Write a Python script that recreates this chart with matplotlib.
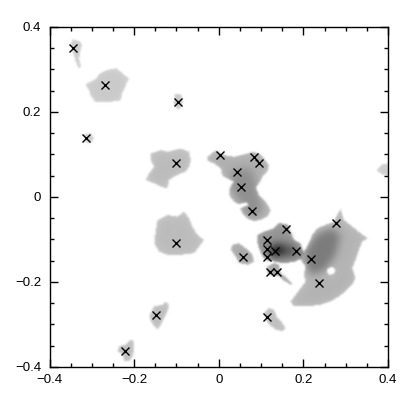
import numpy as np
import matplotlib
matplotlib.use("Agg")
import matplotlib.pyplot as plt
from matplotlib.path import Path
from matplotlib.ticker import MultipleLocator

# positions of the sources (x marks)
marker_x = [-0.345, -0.269, -0.097, -0.313, -0.102,
            0.003, 0.083, 0.094, 0.043, 0.053, 0.078,
            0.159, 0.113, 0.113, 0.133, 0.183, 0.058, 0.113, 0.218, 0.278,
            0.122, 0.138, 0.238, 0.113,
            -0.102, -0.148, -0.222]
marker_y = [0.351, 0.264, 0.224, 0.139, 0.079,
            0.099, 0.095, 0.079, 0.058, 0.023, -0.032,
            -0.076, -0.102, -0.123, -0.128, -0.127, -0.141, -0.142, -0.147, -0.062,
            -0.177, -0.177, -0.202, -0.282,
            -0.108, -0.278, -0.362]

# outlines of the grey regions (data coords)
blob_tl_narrow = [(-0.3475, 0.373), (-0.330, 0.367), (-0.3255, 0.358), (-0.330, 0.342),
                  (-0.332, 0.326), (-0.328, 0.307), (-0.333, 0.303), (-0.340, 0.318),
                  (-0.344, 0.334), (-0.349, 0.346), (-0.3515, 0.362)]
blob_tl_big = [(-0.318, 0.265), (-0.2925, 0.279), (-0.2847, 0.291), (-0.2688, 0.299),
               (-0.2452, 0.304), (-0.2294, 0.293), (-0.2152, 0.279), (-0.2216, 0.2635),
               (-0.2294, 0.248), (-0.2334, 0.228), (-0.261, 0.224), (-0.2925, 0.224),
               (-0.3043, 0.236), (-0.3083, 0.252)]
blob_small_a = [(-0.1057, 0.2424), (-0.0915, 0.2424), (-0.0868, 0.2282), (-0.0915, 0.2094),
                (-0.101, 0.207), (-0.108, 0.2212)]
blob_small_b = [(-0.3208, 0.1482), (-0.3043, 0.1506), (-0.2972, 0.1388), (-0.3043, 0.127),
                (-0.3185, 0.1294)]
blob_mid_upper = [(-0.1625, 0.1028), (-0.1388, 0.1106), (-0.123, 0.1066), (-0.0916, 0.1146),
                  (-0.072, 0.1066), (-0.068, 0.0871), (-0.072, 0.0713), (-0.0797, 0.0595),
                  (-0.0916, 0.0558), (-0.1074, 0.0478), (-0.1192, 0.040), (-0.123, 0.0205),
                  (-0.1388, 0.0242), (-0.1547, 0.0322), (-0.1743, 0.040), (-0.1665, 0.0558),
                  (-0.1547, 0.0713), (-0.1625, 0.0871)]
blob_mid_lower = [(-0.1466, -0.0541), (-0.123, -0.0424), (-0.0994, -0.0464), (-0.0838, -0.0346),
                  (-0.072, -0.0501), (-0.0639, -0.0699), (-0.0521, -0.0894), (-0.0365, -0.1012),
                  (-0.0483, -0.1169), (-0.0601, -0.1325), (-0.0916, -0.1365), (-0.123, -0.1365),
                  (-0.1428, -0.1287), (-0.1547, -0.1089), (-0.1507, -0.0776)]
blob_center_top = [(-0.0285, 0.0948), (-0.0088, 0.1106), (0.0108, 0.0988), (0.0344, 0.0948),
                   (0.0661, 0.1028), (0.0779, 0.1066), (0.0935, 0.1028), (0.1053, 0.0911),
                   (0.1171, 0.0753), (0.1134, 0.0595), (0.1015, 0.0478), (0.0935, 0.0322),
                   (0.0857, 0.0242), (0.0935, 0.0047), (0.1093, -0.0111), (0.1212, -0.0306),
                   (0.1134, -0.0464), (0.0975, -0.0541), (0.0817, -0.0565), (0.0661, -0.0518),
                   (0.0543, -0.0384), (0.0486, -0.0266), (0.058, -0.0228), (0.0699, -0.0188),
                   (0.0621, -0.0125), (0.0462, -0.0172), (0.0344, -0.0111), (0.0226, 0.0047),
                   (0.025, 0.0242), (0.0344, 0.036), (0.0188, 0.044), (0.007, 0.0501),
                   (0.003, 0.0675), (-0.0129, 0.0793), (-0.027, 0.0847)]
blob_cluster = [(0.0897, -0.0894), (0.1053, -0.0816), (0.129, -0.0736), (0.1408, -0.0619),
                (0.1606, -0.0635), (0.1684, -0.0816), (0.1762, -0.1012), (0.192, -0.1089),
                (0.1984, -0.1287), (0.1961, -0.1442), (0.1802, -0.1522), (0.1566, -0.156),
                (0.1408, -0.1546), (0.129, -0.1522), (0.1134, -0.1499), (0.1015, -0.1405),
                (0.0935, -0.1207), (0.0897, -0.1052)]
blob_cluster_tail = [(0.1134, -0.164), (0.129, -0.156), (0.1408, -0.16), (0.1448, -0.1795),
                     (0.1606, -0.1913), (0.1724, -0.2031), (0.1684, -0.207), (0.1488, -0.1953),
                     (0.1408, -0.1875), (0.1252, -0.1875), (0.1134, -0.1795)]
blob_small_c = [(0.0306, -0.1129), (0.0462, -0.1089), (0.0621, -0.1207), (0.0779, -0.1365),
                (0.0817, -0.1522), (0.0661, -0.160), (0.0462, -0.156), (0.0384, -0.1405),
                (0.0266, -0.1247)]
blob_right = [(0.2866, -0.0282), (0.2944, -0.0541), (0.3143, -0.0699), (0.3339, -0.0854),
              (0.3511, -0.0972), (0.3379, -0.1052), (0.3298, -0.1247), (0.322, -0.1482),
              (0.3143, -0.1678), (0.322, -0.1913), (0.3143, -0.207), (0.2984, -0.2228),
              (0.2826, -0.2346), (0.263, -0.2464), (0.2393, -0.2541), (0.2079, -0.2581),
              (0.1762, -0.2581), (0.1684, -0.2464), (0.1802, -0.2306), (0.192, -0.2148),
              (0.2039, -0.1993), (0.1999, -0.1835), (0.2039, -0.164), (0.192, -0.1482),
              (0.1999, -0.1287), (0.2117, -0.1089), (0.2197, -0.0894), (0.2315, -0.0736),
              (0.2511, -0.0659), (0.2708, -0.0581), (0.2788, -0.0424)]
hole_right = [(0.256, -0.170), (0.266, -0.164), (0.274, -0.170), (0.272, -0.180),
              (0.262, -0.184), (0.255, -0.178)]
blob_low_a = [(0.1053, -0.2736), (0.1171, -0.2619), (0.129, -0.2659), (0.137, -0.2854),
              (0.1488, -0.2972), (0.1566, -0.3089), (0.1488, -0.3169), (0.133, -0.3129),
              (0.1171, -0.3012), (0.1093, -0.2894)]
blob_low_b = [(-0.1547, -0.2581), (-0.1348, -0.2541), (-0.127, -0.2464), (-0.1192, -0.2541),
              (-0.123, -0.2699), (-0.131, -0.2854), (-0.1388, -0.3012), (-0.1466, -0.3129),
              (-0.1547, -0.3052), (-0.1625, -0.2934), (-0.1665, -0.2816)]
blob_low_c = [(-0.2374, -0.3522), (-0.2216, -0.3482), (-0.2097, -0.3365), (-0.2019, -0.3404),
              (-0.2019, -0.356), (-0.2057, -0.3758), (-0.2138, -0.3875), (-0.2256, -0.3875),
              (-0.2294, -0.3718), (-0.2412, -0.364)]
blob_edge = [(0.3717, 0.0635), (0.3858, 0.0776), (0.405, 0.080), (0.405, 0.0494), (0.3858, 0.0518)]

blobs = [blob_tl_narrow, blob_tl_big, blob_small_a, blob_small_b, blob_mid_upper,
         blob_mid_lower, blob_center_top, blob_cluster, blob_cluster_tail, blob_small_c,
         blob_right, blob_low_a, blob_low_b, blob_low_c, blob_edge]
blob_level = [0.20, 0.20, 0.22, 0.20, 0.25, 0.25, 0.30, 0.40, 0.34, 0.33,
              0.28, 0.25, 0.25, 0.25, 0.20]

# darker cores inside the regions
core_cluster = [(0.117, -0.112), (0.150, -0.108), (0.181, -0.118), (0.181, -0.138),
                (0.150, -0.142), (0.117, -0.140)]
core_spot = [(0.124, -0.120), (0.145, -0.118), (0.150, -0.132), (0.128, -0.136)]
core_right = [(0.2039, -0.1247), (0.2275, -0.0894), (0.263, -0.0729), (0.2866, -0.0894),
              (0.2748, -0.1365), (0.2511, -0.1718), (0.2157, -0.1835), (0.2039, -0.160)]
core_center = [(0.03, 0.06), (0.07, 0.07), (0.09, 0.03), (0.10, -0.03), (0.09, -0.05),
               (0.06, -0.04), (0.04, 0.0), (0.02, 0.03)]
cores = [core_cluster, core_spot, core_right, core_center]
core_level = [0.25, 0.35, 0.22, 0.12]

tick_vals = [-0.4, -0.2, 0, 0.2, 0.4]
tick_labels = ["\u22120.4", "\u22120.2", "0", "0.2", "0.4"]


def blur(img, sigma):
    r = int(3 * sigma) + 1
    k = np.exp(-0.5 * (np.arange(-r, r + 1) / sigma) ** 2)
    k /= k.sum()
    img = np.apply_along_axis(lambda m: np.convolve(m, k, mode="same"), 0, img)
    img = np.apply_along_axis(lambda m: np.convolve(m, k, mode="same"), 1, img)
    return img


def poly_mask(poly, pts, shape):
    return Path(poly).contains_points(pts).reshape(shape).astype(float)


n = 340
g = np.linspace(-0.4, 0.4, n)
gx, gy = np.meshgrid(g, g)
pts = np.column_stack([gx.ravel(), gy.ravel()])

base = np.zeros((n, n))
for poly, lev in zip(blobs, blob_level):
    base = np.maximum(base, poly_mask(poly, pts, base.shape) * lev)
base *= 1 - poly_mask(hole_right, pts, base.shape)
union = (base > 0).astype(float)

core = np.zeros((n, n))
for poly, lev in zip(cores, core_level):
    core += poly_mask(poly, pts, core.shape) * lev
core = blur(core, 4)

inner = blur(union, 4)
dark = base * (0.8 + 0.25 * inner) + core * union
dark = blur(np.clip(dark, 0, 0.92), 0.9)

fig = plt.figure(figsize=(4.15, 4.16), dpi=100)
ax = fig.add_axes([0.1193, 0.1178, 0.8157, 0.8173])
ax.imshow(dark, cmap="gray_r", vmin=0, vmax=1, origin="lower",
          extent=[-0.4, 0.4, -0.4, 0.4], interpolation="bilinear", aspect="auto")
ax.plot(marker_x, marker_y, "x", color="black", ms=6, mew=1.0)

ax.set_xlim(-0.4, 0.4)
ax.set_ylim(-0.4, 0.4)
ax.set_xticks(tick_vals)
ax.set_xticklabels(tick_labels)
ax.set_yticks(tick_vals)
ax.set_yticklabels(tick_labels)
ax.xaxis.set_minor_locator(MultipleLocator(0.05))
ax.yaxis.set_minor_locator(MultipleLocator(0.05))
ax.tick_params(which="both", direction="in", top=True, right=True, width=1, colors="black")
ax.tick_params(which="major", length=6)
ax.tick_params(which="minor", length=3.2)
ax.tick_params(axis="x", pad=5)
ax.tick_params(axis="y", pad=6)
for lab in ax.get_xticklabels() + ax.get_yticklabels():
    lab.set_fontfamily("Liberation Sans")
    lab.set_fontsize(9.5)
for s in ax.spines.values():
    s.set_linewidth(1.0)

fig.savefig("out.png", dpi=100)
